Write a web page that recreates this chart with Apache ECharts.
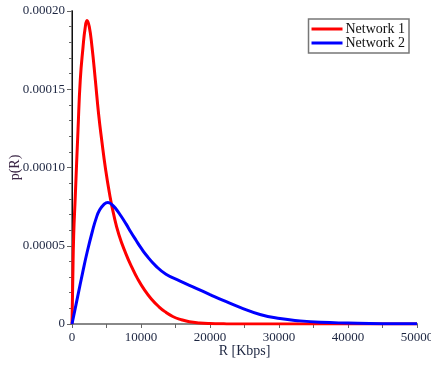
<!DOCTYPE html>
<html>
<head>
<meta charset="utf-8">
<script src="https://cdn.jsdelivr.net/npm/echarts@6/dist/echarts.min.js"></script>
<style>html,body{margin:0;padding:0;background:#fff;}#c{width:431px;height:365px;}</style>
</head>
<body>
<div id="c"></div>
<script>
// Network 1 (red): R in Kbps, p(R) in units of 1e-6
var net1R = [0, 120, 240, 480, 870, 1200, 1600, 1900, 2170, 2500, 2900, 3380, 3860, 4350, 4830, 5410, 6040, 6800, 7800, 8700, 9500, 10500, 11500, 12600, 13600, 14600, 15800, 17000, 18500, 20000, 22000, 25000, 30000, 40000, 50000];
var net1P = [0, 30, 56, 82, 124, 156, 177, 189, 194, 190, 177, 156, 134, 116, 100, 84, 70, 57, 45, 36, 29, 21.8, 16, 11, 7.5, 4.8, 2.8, 1.5, 0.7, 0.3, 0.1, 0, 0, 0, 0];
// Network 2 (blue)
var net2R = [0, 400, 820, 1550, 2200, 3000, 3500, 3960, 4600, 5200, 5800, 6380, 7100, 7830, 8500, 9280, 10000, 10720, 12170, 13620, 15600, 18000, 20000, 22000, 24350, 27250, 30140, 33040, 36000, 40000, 45000, 50000];
var net2P = [0, 8.5, 17.5, 33, 46, 60, 67.5, 72.5, 76.3, 77.7, 76.2, 73.5, 69, 64, 59, 53.5, 48.6, 44.2, 37, 31.8, 27.6, 22.8, 18.8, 14.9, 10.6, 6.1, 3.5, 2.0, 1.1, 0.6, 0.2, 0.1];
var seriesNames = ['Network 1', 'Network 2'];
var xTitle = 'R [Kbps]';
var yTitle = 'p(R)';

function pairs(xs, ys) {
  return xs.map(function (x, i) { return [x, ys[i] * 1e-6]; });
}

var txtColor = '#1c2540';
var font = 'Liberation Serif';
var chart = echarts.init(document.getElementById('c'), null, {renderer: 'canvas'});
chart.setOption({
  animation: false,
  backgroundColor: '#fff',
  grid: {left: 72, right: 14, top: 11, bottom: 41, containLabel: false, outerBoundsMode: 'none'},
  legend: {
    data: seriesNames,
    orient: 'vertical',
    right: 22,
    top: 19,
    icon: 'rect',
    itemWidth: 31,
    itemHeight: 3,
    itemGap: 0,
    padding: [3, 4, 3, 3],
    borderColor: '#777',
    borderWidth: 1.5,
    backgroundColor: '#fff',
    textStyle: {fontFamily: font, fontSize: 14, color: '#111', lineHeight: 14, padding: [0, 0, 0, -2]}
  },
  xAxis: [{
    type: 'value', min: 0, max: 50000, interval: 10000,
    name: xTitle, nameLocation: 'middle', nameGap: 20, nameMoveOverlap: false,
    nameTextStyle: {fontFamily: font, fontSize: 14, color: txtColor},
    axisLine: {show: true, onZero: false, lineStyle: {color: '#808080', width: 2}},
    axisTick: {show: true, length: 4, lineStyle: {color: '#666', width: 1}},
    minorTick: {show: true, splitNumber: 2, length: 4, lineStyle: {color: '#666', width: 1}},
    axisLabel: {fontFamily: font, fontSize: 13, color: txtColor, margin: 7,
      formatter: function (v) { return String(Math.round(v)); }},
    splitLine: {show: false}
  }, {
    type: 'value', position: 'top', min: 0, max: 50000,
    axisLine: {show: true, lineStyle: {color: '#888', width: 2}},
    axisTick: {show: false}, axisLabel: {show: false}, splitLine: {show: false}
  }],
  yAxis: [{
    type: 'value', min: 0, max: 0.0002, interval: 0.00005,
    name: yTitle, nameLocation: 'middle', nameGap: 50, nameRotate: 90, nameMoveOverlap: false,
    nameTextStyle: {fontFamily: font, fontSize: 14, color: '#3a2545'},
    axisLine: {show: true, onZero: false, lineStyle: {color: '#808080', width: 2}},
    axisTick: {show: true, length: 5, lineStyle: {color: '#666', width: 1}},
    minorTick: {show: true, splitNumber: 5, length: 3, lineStyle: {color: '#666', width: 1}},
    axisLabel: {fontFamily: font, fontSize: 13, color: txtColor, margin: 7,
      formatter: function (v) { return v === 0 ? '0' : v.toFixed(5); }},
    splitLine: {show: false}
  }, {
    type: 'value', position: 'right', min: 0, max: 0.0002,
    axisLine: {show: true, lineStyle: {color: '#111', width: 1}},
    axisTick: {show: false}, axisLabel: {show: false}, splitLine: {show: false}
  }],
  series: [{
    name: seriesNames[0], type: 'line', data: pairs(net1R, net1P),
    smooth: 0.5, showSymbol: false, clip: true,
    lineStyle: {color: '#ff0000', width: 3}, itemStyle: {color: '#ff0000'}
  }, {
    name: seriesNames[1], type: 'line', data: pairs(net2R, net2P),
    smooth: 0.5, showSymbol: false, clip: true,
    lineStyle: {color: '#0000ff', width: 3}, itemStyle: {color: '#0000ff'}
  }]
});
</script>
</body>
</html>
